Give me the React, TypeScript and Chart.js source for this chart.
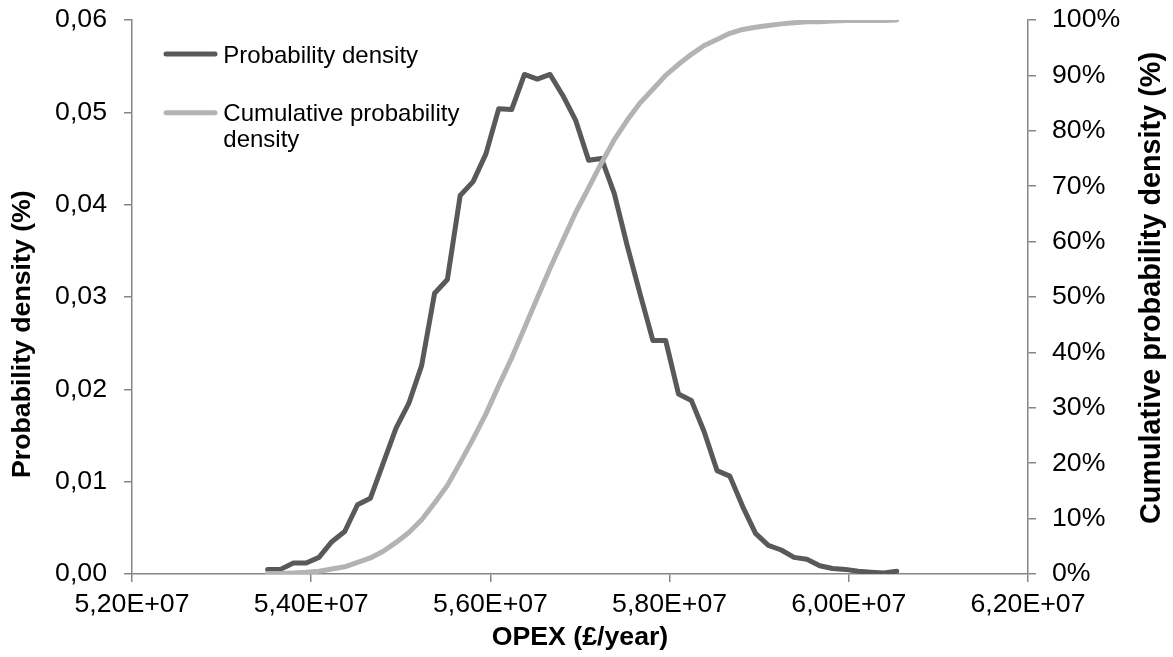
import React, { useEffect, useRef } from "react";
import { Chart, registerables } from "chart.js";

Chart.register(...registerables);

// OPEX bin values (£/year)
const opex = [
  53514000, 53657000, 53801000, 53944000, 54087000, 54230000, 54374000, 54517000, 54660000, 54804000,
  54947000, 55090000, 55233000, 55377000, 55520000, 55663000, 55807000, 55950000, 56093000, 56237000,
  56380000, 56523000, 56666000, 56810000, 56953000, 57096000, 57240000, 57383000, 57526000, 57669000,
  57813000, 57956000, 58099000, 58243000, 58386000, 58529000, 58672000, 58816000, 58959000, 59102000,
  59246000, 59389000, 59532000, 59676000, 59819000, 59962000, 60105000, 60249000, 60392000, 60535000,
];

// Probability density (left axis)
const density = [
  0.0005, 0.0005, 0.0012, 0.0012, 0.0018, 0.0035, 0.0046, 0.0075, 0.0082, 0.012,
  0.0158, 0.0185, 0.0226, 0.0304, 0.0319, 0.041, 0.0425, 0.0455, 0.0504, 0.0503,
  0.0541, 0.0536, 0.0541, 0.0518, 0.0491, 0.0448, 0.045, 0.0412, 0.0356, 0.0304,
  0.0253, 0.0253, 0.0195, 0.0188, 0.0154, 0.0112, 0.0106, 0.0073, 0.0044, 0.0031,
  0.0026, 0.0018, 0.0016, 0.0009, 0.0006, 0.0005, 0.0003, 0.0002, 0.0001, 0.0003,
];

// Cumulative probability density (right axis, fraction)
const cumulative = [
  0.001, 0.001, 0.002, 0.003, 0.005, 0.009, 0.013, 0.021, 0.029, 0.041,
  0.057, 0.075, 0.098, 0.128, 0.16, 0.201, 0.244, 0.289, 0.34, 0.39,
  0.444, 0.498, 0.552, 0.603, 0.653, 0.697, 0.742, 0.784, 0.819, 0.85,
  0.875, 0.9, 0.92, 0.938, 0.954, 0.965, 0.976, 0.983, 0.987, 0.99,
  0.993, 0.995, 0.997, 0.997, 0.998, 0.999, 0.999, 0.999, 0.999, 1.0,
];

const seriesNames = ["Probability density", "Cumulative probability density"];
const legendLines = [["Probability density"], ["Cumulative probability", "density"]];
const xTitle = "OPEX (£/year)";
const yTitle = "Probability density (%)";
const y1Title = "Cumulative probability density (%)";

const FONT = '"Liberation Sans", Arial, Helvetica, sans-serif';
const DARK = "#595959";
const LIGHT = "#b3b3b3";
const AXIS = "#868686";
const LINE_W = 5;

export default function App() {
  const ref = useRef<HTMLCanvasElement>(null);

  useEffect(() => {
    document.body.style.margin = "0";
    const canvas = ref.current;
    if (!canvas) return;

    const textPlugin = {
      id: "customText",
      afterDraw(chart: any) {
        const c = chart.ctx as CanvasRenderingContext2D;
        const a = chart.chartArea;
        c.save();
        c.fillStyle = "#000";
        c.font = `bold 26.7px ${FONT}`;
        c.textBaseline = "alphabetic";
        c.textAlign = "center";
        c.fillText(xTitle, (a.left + a.right) / 2, 645);

        c.textAlign = "left";
        c.save();
        c.translate(29.5, 478);
        c.rotate(-Math.PI / 2);
        c.fillText(yTitle, 0, 0);
        c.restore();

        c.font = `bold 28.8px ${FONT}`;
        c.save();
        c.translate(1160, 524);
        c.rotate(-Math.PI / 2);
        c.fillText(y1Title, 0, 0);
        c.restore();

        // legend
        const colors = [DARK, LIGHT];
        const ys = [54, 112.7];
        c.font = `24px ${FONT}`;
        legendLines.forEach((lines, i) => {
          c.strokeStyle = colors[i];
          c.lineWidth = LINE_W;
          c.lineCap = "round";
          c.beginPath();
          c.moveTo(166, ys[i]);
          c.lineTo(215, ys[i]);
          c.stroke();
          lines.forEach((t, j) => {
            c.fillText(t, 223.3, ys[i] + 8.6 + j * 25.6);
          });
        });
        c.restore();
      },
    };

    const yFit = (w: number) => (s: any) => {
      s.width = w;
      s.paddingTop = 0;
      s.paddingBottom = 0;
    };

    const chart = new Chart(canvas, {
      type: "line",
      data: {
        datasets: [
          {
            label: seriesNames[0],
            data: opex.map((x, i) => ({ x, y: density[i] })),
            borderColor: DARK,
            backgroundColor: DARK,
            borderWidth: LINE_W,
            pointRadius: 0,
            tension: 0,
            fill: false,
            borderJoinStyle: "round",
            borderCapStyle: "round",
            yAxisID: "y",
            order: 1,
          },
          {
            label: seriesNames[1],
            data: opex.map((x, i) => ({ x, y: cumulative[i] })),
            borderColor: LIGHT,
            backgroundColor: LIGHT,
            borderWidth: LINE_W,
            pointRadius: 0,
            tension: 0,
            fill: false,
            borderJoinStyle: "round",
            borderCapStyle: "round",
            yAxisID: "y1",
            order: 0,
          },
        ],
      },
      options: {
        responsive: false,
        animation: false,
        devicePixelRatio: 1,
        layout: { padding: { top: 20, left: 0, right: 0, bottom: 0 } },
        plugins: {
          legend: { display: false },
          tooltip: { enabled: false },
        },
        scales: {
          x: {
            type: "linear",
            min: 52000000,
            max: 62000000,
            afterFit: (s: any) => {
              s.height = 83;
              s.paddingLeft = 0;
              s.paddingRight = 0;
            },
            ticks: {
              stepSize: 2000000,
              autoSkip: false,
              maxRotation: 0,
              padding: 7,
              color: "#000",
              font: { family: FONT, size: 26.7 },
              callback: (v: any) => (Number(v) / 1e7).toFixed(2).replace(".", ",") + "E+07",
            },
            grid: { drawOnChartArea: false, drawTicks: true, tickLength: 8, color: AXIS, lineWidth: 1.5 },
            border: { display: true, color: AXIS, width: 1.5 },
          },
          y: {
            type: "linear",
            position: "left",
            min: 0,
            max: 0.06,
            afterFit: yFit(132),
            ticks: {
              stepSize: 0.01,
              padding: 17,
              color: "#000",
              font: { family: FONT, size: 26.7 },
              callback: (v: any) => Number(v).toFixed(2).replace(".", ","),
            },
            grid: { drawOnChartArea: false, drawTicks: true, tickLength: 8, color: AXIS, lineWidth: 1.5 },
            border: { display: true, color: AXIS, width: 1.5 },
          },
          y1: {
            type: "linear",
            position: "right",
            min: 0,
            max: 1,
            afterFit: yFit(145),
            ticks: {
              stepSize: 0.1,
              padding: 16,
              color: "#000",
              font: { family: FONT, size: 26.7 },
              callback: (v: any) => Math.round(Number(v) * 100) + "%",
            },
            grid: { drawOnChartArea: false, drawTicks: true, tickLength: 8, color: AXIS, lineWidth: 1.5 },
            border: { display: true, color: AXIS, width: 1.5 },
          },
        },
      },
      plugins: [textPlugin],
    });

    return () => chart.destroy();
  }, []);

  return (
    <div style={{ width: 1173, height: 657, background: "#fff" }}>
      <canvas ref={ref} width={1173} height={657} style={{ display: "block" }} />
    </div>
  );
}
